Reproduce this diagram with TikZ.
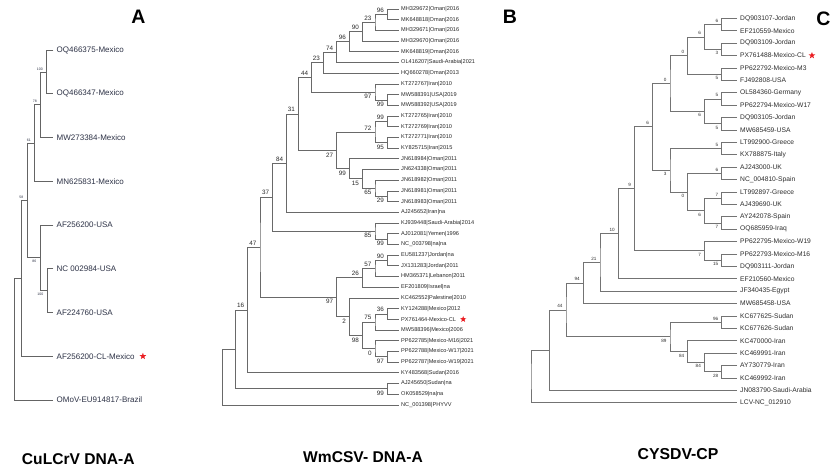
\documentclass[tikz,border=0pt]{standalone}
\usepackage{fontspec}
\setmainfont{Liberation Sans}
\usetikzlibrary{shapes.geometric}
\definecolor{brA}{RGB}{100,100,100}
\definecolor{txA}{RGB}{45,50,70}
\definecolor{brB}{RGB}{105,105,105}
\definecolor{txB}{RGB}{40,40,40}
\definecolor{brC}{RGB}{115,115,115}
\definecolor{txC}{RGB}{45,45,45}
\definecolor{starred}{RGB}{235,30,35}
\newcommand\clade[4]{\draw[#1] (#3) -| (#2) |- (#4);}
\tikzset{
  brAs/.style={draw=brA,line width=0.8pt},
  brBs/.style={draw=brB,line width=0.75pt},
  brCs/.style={draw=brC,line width=0.7pt},
  lfA/.style={anchor=west,inner xsep=3.2pt,inner ysep=0pt,font=\fontsize{8}{9}\selectfont,text=txA},
  lfB/.style={anchor=west,inner xsep=2pt,inner ysep=0pt,font=\fontsize{5.6}{6}\selectfont,text=txB},
  lfC/.style={anchor=west,inner xsep=3pt,inner ysep=0pt,font=\fontsize{6.7}{7}\selectfont,text=txC},
  upA/.style={anchor=south east,inner sep=0.3pt,xshift=-3.5pt,yshift=1.2pt,font=\fontsize{3.5}{4}\selectfont,text=txA},
  dnA/.style={anchor=north east,inner sep=0.3pt,xshift=-3.5pt,yshift=-1.5pt,font=\fontsize{3.5}{4}\selectfont,text=txA},
  upB/.style={anchor=south east,inner sep=0.3pt,xshift=-3pt,yshift=1.5pt,font=\fontsize{6.3}{7}\selectfont,text=txB},
  dnB/.style={anchor=north east,inner sep=0.3pt,xshift=-3pt,yshift=-1.8pt,font=\fontsize{6.3}{7}\selectfont,text=txB},
  upC/.style={anchor=south east,inner sep=0.3pt,xshift=-3pt,yshift=1.5pt,font=\fontsize{4.6}{5}\selectfont,text=txC},
  dnC/.style={anchor=north east,inner sep=0.3pt,xshift=-3pt,yshift=-1.8pt,font=\fontsize{4.6}{5}\selectfont,text=txC},
  rstar/.style={star,star points=5,star point ratio=2.4,fill=starred,draw=none,inner sep=0pt,minimum size=7pt},
  bigl/.style={font=\fontsize{19.5}{20}\bfseries\selectfont,inner sep=0pt},
  ttl/.style={font=\fontsize{15.6}{17}\bfseries\selectfont,inner sep=0pt}
}
\begin{document}
\begin{tikzpicture}[x=1pt,y=-1pt]
\useasboundingbox (0,0) rectangle (835,475);
\fill[white] (0,0) rectangle (835,475);

% ---------- titles ----------
\node[bigl] (tA) at (138.3,16.7) {A};
\node[bigl] (tB) at (510,16.7) {B};
\node[bigl] (tC) at (823.3,18.3) {C};
\node[ttl] (sA) at (78.3,459) {CuLCrV DNA-A};
\node[ttl] (sB) at (363,456.7) {WmCSV- DNA-A};
\node[ttl,font=\fontsize{15.8}{17}\bfseries\selectfont] (sC) at (678,454.5) {CYSDV-CP};

% ---------- tree A ----------
\coordinate (aroot) at (14.7,339);
\coordinate (aN) at (21.3,278.3);
\coordinate (a58) at (27.3,200.4);
\coordinate (a61) at (34.7,143);
\coordinate (a78) at (40.7,104.7);
\coordinate (a100) at (46.7,71.9);
\coordinate (a86) at (40.3,257.8);
\coordinate (a100b) at (47.3,290.6);
\node[lfA] (A1) at (53.3,50) {OQ466375-Mexico};
\node[lfA] (A2) at (53.3,93.75) {OQ466347-Mexico};
\node[lfA] (A3) at (53.3,137.5) {MW273384-Mexico};
\node[lfA] (A4) at (53.3,181.25) {MN625831-Mexico};
\node[lfA] (A5) at (53.3,225) {AF256200-USA};
\node[lfA] (A6) at (53.3,268.75) {NC 002984-USA};
\node[lfA] (A7) at (53.3,312.5) {AF224760-USA};
\node[lfA] (A8) at (53.3,356.25) {AF256200-CL-Mexico};
\node[lfA] (A9) at (53.3,400) {OMoV-EU914817-Brazil};
\node[rstar] (starA) at ([xshift=5pt]A8.east) {};
\clade{brAs}{aroot}{aN}{A9.west}
\clade{brAs}{aN}{a58}{A8.west}
\clade{brAs}{a58}{a61}{a86}
\clade{brAs}{a61}{a78}{A4.west}
\clade{brAs}{a78}{a100}{A3.west}
\clade{brAs}{a100}{A1.west}{A2.west}
\clade{brAs}{a86}{A5.west}{a100b}
\clade{brAs}{a100b}{A6.west}{A7.west}
\node[upA] (la100) at (a100) {100};
\node[upA] (la78) at (a78) {78};
\node[upA] (la61) at (a61) {61};
\node[upA] (la58) at (a58) {58};
\node[dnA] (la86) at (a86) {86};
\node[dnA] (la100b) at (a100b) {100};

% ---------- tree B ----------
\coordinate (b96b) at (387.3,14.35);
\coordinate (b23b) at (375,22.4);
\coordinate (b90) at (362.3,31.75);
\coordinate (b96a) at (349.3,41.8);
\coordinate (b74) at (336.7,52.15);
\coordinate (b23a) at (323.3,62.7);
\coordinate (b99a) at (387.3,99.95);
\coordinate (b97b) at (375,91.9);
\coordinate (b44) at (311.7,77.3);
\coordinate (b99e) at (387.3,121.35);
\coordinate (b95) at (387.3,142.75);
\coordinate (b72) at (375,132.05);
\coordinate (b29) at (387.3,196.25);
\coordinate (b65) at (375,188.2);
\coordinate (b15) at (362.3,178.85);
\coordinate (b99d) at (349.3,168.8);
\coordinate (b27) at (336.7,150.4);
\coordinate (b31) at (298.3,113.9);
\coordinate (b84) at (286.7,163.1);
\coordinate (b99f) at (387.3,239.05);
\coordinate (b85) at (375,231.0);
\coordinate (b37) at (272.7,197.05);
\coordinate (b90b) at (387.3,260.45);
\coordinate (b57) at (375,268.5);
\coordinate (b26) at (362.3,277.85);
\coordinate (b36) at (387.3,313.95);
\coordinate (b75) at (375,322);
\coordinate (b97c) at (387.3,356.75);
\coordinate (b0) at (375,348.7);
\coordinate (b98) at (362.3,335.35);
\coordinate (b2) at (349.3,316.6);
\coordinate (b97a) at (336.7,297.2);
\coordinate (b47) at (260,247.1);
\coordinate (b16) at (247.7,310);
\coordinate (b99c) at (387.3,388.85);
\coordinate (b0n) at (235.7,349.4);
\coordinate (broot) at (222.3,377.2);
\node[lfB] (B1) at (399,9.0) {MH329672|Oman|2016};
\node[lfB] (B2) at (399,19.7) {MK648818|Oman|2016};
\node[lfB] (B3) at (399,30.4) {MH329671|Oman|2016};
\node[lfB] (B4) at (399,41.1) {MH329670|Oman|2016};
\node[lfB] (B5) at (399,51.8) {MK648819|Oman|2016};
\node[lfB] (B6) at (399,62.5) {OL416207|Saudi-Arabia|2021};
\node[lfB] (B7) at (399,73.2) {HQ660278|Oman|2013};
\node[lfB] (B8) at (399,83.9) {KT272767|Iran|2010};
\node[lfB] (B9) at (399,94.6) {MW588391|USA|2019};
\node[lfB] (B10) at (399,105.3) {MW588392|USA|2019};
\node[lfB] (B11) at (399,116.0) {KT272765|Iran|2010};
\node[lfB] (B12) at (399,126.7) {KT272769|Iran|2010};
\node[lfB] (B13) at (399,137.4) {KT272771|Iran|2010};
\node[lfB] (B14) at (399,148.1) {KY825715|Iran|2015};
\node[lfB] (B15) at (399,158.8) {JN618984|Oman|2011};
\node[lfB] (B16) at (399,169.5) {JN624338|Oman|2011};
\node[lfB] (B17) at (399,180.2) {JN618982|Oman|2011};
\node[lfB] (B18) at (399,190.9) {JN618981|Oman|2011};
\node[lfB] (B19) at (399,201.6) {JN618983|Oman|2011};
\node[lfB] (B20) at (399,212.3) {AJ245652|Iran|na};
\node[lfB] (B21) at (399,223.0) {KJ939448|Saudi-Arabia|2014};
\node[lfB] (B22) at (399,233.7) {AJ012081|Yemen|1996};
\node[lfB] (B23) at (399,244.4) {NC\_003798|na|na};
\node[lfB] (B24) at (399,255.1) {EU581237|Jordan|na};
\node[lfB] (B25) at (399,265.8) {JX131283|Jordan|2011};
\node[lfB] (B26) at (399,276.5) {HM365371|Lebanon|2011};
\node[lfB] (B27) at (399,287.2) {EF201809|Israel|na};
\node[lfB] (B28) at (399,297.9) {KC462552|Palestine|2010};
\node[lfB] (B29) at (399,308.6) {KY124288|Mexico|2012};
\node[lfB] (B30) at (399,319.3) {PX761464-Mexico-CL};
\node[lfB] (B31) at (399,330.0) {MW588396|Mexico|2006};
\node[lfB] (B32) at (399,340.7) {PP622785|Mexico-M16|2021};
\node[lfB] (B33) at (399,351.4) {PP622788|Mexico-W17|2021};
\node[lfB] (B34) at (399,362.1) {PP622787|Mexico-W19|2021};
\node[lfB] (B35) at (399,372.8) {KY483568|Sudan|2016};
\node[lfB] (B36) at (399,383.5) {AJ245650|Sudan|na};
\node[lfB] (B37) at (399,394.2) {OK058529|na|na};
\node[lfB] (B38) at (399,404.9) {NC\_001398|PHYVV};
\node[rstar,minimum size=6.5pt] (starB) at ([xshift=5pt]B30.east) {};
\clade{brBs}{broot}{b0n}{B38.west}
\clade{brBs}{b0n}{b16}{b99c}
\clade{brBs}{b16}{b47}{B35.west}
\clade{brBs}{b47}{b37}{b97a}
\clade{brBs}{b37}{b84}{b85}
\clade{brBs}{b84}{b31}{B20.west}
\clade{brBs}{b31}{b44}{b27}
\clade{brBs}{b44}{b23a}{b97b}
\clade{brBs}{b23a}{b74}{B7.west}
\clade{brBs}{b74}{b96a}{B6.west}
\clade{brBs}{b96a}{b90}{B5.west}
\clade{brBs}{b90}{b23b}{B4.west}
\clade{brBs}{b23b}{b96b}{B3.west}
\clade{brBs}{b96b}{B1.west}{B2.west}
\clade{brBs}{b97b}{B8.west}{b99a}
\clade{brBs}{b99a}{B9.west}{B10.west}
\clade{brBs}{b27}{b72}{b99d}
\clade{brBs}{b72}{b99e}{b95}
\clade{brBs}{b99e}{B11.west}{B12.west}
\clade{brBs}{b95}{B13.west}{B14.west}
\clade{brBs}{b99d}{B15.west}{b15}
\clade{brBs}{b15}{B16.west}{b65}
\clade{brBs}{b65}{B17.west}{b29}
\clade{brBs}{b29}{B18.west}{B19.west}
\clade{brBs}{b85}{B21.west}{b99f}
\clade{brBs}{b99f}{B22.west}{B23.west}
\clade{brBs}{b97a}{b26}{b2}
\clade{brBs}{b26}{b57}{B27.west}
\clade{brBs}{b57}{b90b}{B26.west}
\clade{brBs}{b90b}{B24.west}{B25.west}
\clade{brBs}{b2}{B28.west}{b98}
\clade{brBs}{b98}{b75}{b0}
\clade{brBs}{b75}{b36}{B31.west}
\clade{brBs}{b36}{B29.west}{B30.west}
\clade{brBs}{b0}{B32.west}{b97c}
\clade{brBs}{b97c}{B33.west}{B34.west}
\clade{brBs}{b99c}{B36.west}{B37.west}
\node[upB] (lb96b) at (b96b) {96};
\node[upB] (lb23b) at (b23b) {23};
\node[upB] (lb90) at (b90) {90};
\node[upB] (lb96a) at (b96a) {96};
\node[upB] (lb74) at (b74) {74};
\node[upB] (lb23a) at (b23a) {23};
\node[upB] (lb44) at (b44) {44};
\node[dnB] (lb97b) at (b97b) {97};
\node[dnB] (lb99a) at (b99a) {99};
\node[upB] (lb31) at (b31) {31};
\node[dnB] (lb27) at (b27) {27};
\node[upB] (lb72) at (b72) {72};
\node[upB] (lb99e) at (b99e) {99};
\node[dnB] (lb95) at (b95) {95};
\node[dnB] (lb99d) at (b99d) {99};
\node[dnB] (lb15) at (b15) {15};
\node[dnB] (lb65) at (b65) {65};
\node[dnB] (lb29) at (b29) {29};
\node[upB] (lb84) at (b84) {84};
\node[upB] (lb37) at (b37) {37};
\node[dnB] (lb85) at (b85) {85};
\node[dnB] (lb99f) at (b99f) {99};
\node[upB] (lb47) at (b47) {47};
\node[dnB] (lb97a) at (b97a) {97};
\node[upB] (lb26) at (b26) {26};
\node[upB] (lb57) at (b57) {57};
\node[upB] (lb90b) at (b90b) {90};
\node[dnB] (lb2) at (b2) {2};
\node[dnB] (lb98) at (b98) {98};
\node[upB] (lb75) at (b75) {75};
\node[upB] (lb36) at (b36) {36};
\node[dnB] (lb0) at (b0) {0};
\node[dnB] (lb97c) at (b97c) {97};
\node[upB] (lb16) at (b16) {16};
\node[dnB] (lb99c) at (b99c) {99};

% ---------- tree C ----------
\coordinate (ca) at (721.7,24.5);
\coordinate (cb) at (721.7,49.3);
\coordinate (cc) at (704.3,36.9);
\coordinate (cd) at (721.7,74.1);
\coordinate (ce) at (687.7,55.5);
\coordinate (cf) at (721.7,98.9);
\coordinate (cg) at (721.7,123.7);
\coordinate (ch) at (704.3,111.3);
\coordinate (ci) at (670,83.4);
\coordinate (cj) at (721.7,148.5);
\coordinate (ck) at (721.7,173.3);
\coordinate (cl) at (721.7,198.1);
\coordinate (cm) at (721.7,222.9);
\coordinate (cn) at (704.3,210.5);
\coordinate (co) at (687.7,191.9);
\coordinate (cq) at (670,170.2);
\coordinate (cr) at (652.3,126.8);
\coordinate (cu) at (721.7,260.1);
\coordinate (ct) at (704.3,250.8);
\coordinate (cs) at (634.3,188.8);
\coordinate (cv) at (618.3,233.75);
\coordinate (cw) at (600,262.4);
\coordinate (cx) at (583.3,282.95);
\coordinate (c96) at (721.7,322.1);
\coordinate (c28) at (721.7,371.7);
\coordinate (c84b) at (704.3,362.4);
\coordinate (c84a) at (687.7,351.55);
\coordinate (cz) at (670,336.8);
\coordinate (cy) at (566,309.9);
\coordinate (cA) at (549.3,350.1);
\coordinate (croot) at (531,376.4);
\node[lfC] (C1) at (737,18.3) {DQ903107-Jordan};
\node[lfC] (C2) at (737,30.7) {EF210559-Mexico};
\node[lfC] (C3) at (737,43.1) {DQ903109-Jordan};
\node[lfC] (C4) at (737,55.5) {PX761488-Mexico-CL};
\node[lfC] (C5) at (737,67.9) {PP622792-Mexico-M3};
\node[lfC] (C6) at (737,80.3) {FJ492808-USA};
\node[lfC] (C7) at (737,92.7) {OL584360-Germany};
\node[lfC] (C8) at (737,105.1) {PP622794-Mexico-W17};
\node[lfC] (C9) at (737,117.5) {DQ903105-Jordan};
\node[lfC] (C10) at (737,129.9) {MW685459-USA};
\node[lfC] (C11) at (737,142.3) {LT992900-Greece};
\node[lfC] (C12) at (737,154.7) {KX788875-Italy};
\node[lfC] (C13) at (737,167.1) {AJ243000-UK};
\node[lfC] (C14) at (737,179.5) {NC\_004810-Spain};
\node[lfC] (C15) at (737,191.9) {LT992897-Greece};
\node[lfC] (C16) at (737,204.3) {AJ439690-UK};
\node[lfC] (C17) at (737,216.7) {AY242078-Spain};
\node[lfC] (C18) at (737,229.1) {OQ685959-Iraq};
\node[lfC] (C19) at (737,241.5) {PP622795-Mexico-W19};
\node[lfC] (C20) at (737,253.9) {PP622793-Mexico-M16};
\node[lfC] (C21) at (737,266.3) {DQ903111-Jordan};
\node[lfC] (C22) at (737,278.7) {EF210560-Mexico};
\node[lfC] (C23) at (737,291.1) {JF340435-Egypt};
\node[lfC] (C24) at (737,303.5) {MW685458-USA};
\node[lfC] (C25) at (737,315.9) {KC677625-Sudan};
\node[lfC] (C26) at (737,328.3) {KC677626-Sudan};
\node[lfC] (C27) at (737,340.7) {KC470000-Iran};
\node[lfC] (C28) at (737,353.1) {KC469991-Iran};
\node[lfC] (C29) at (737,365.5) {AY730779-Iran};
\node[lfC] (C30) at (737,377.9) {KC469992-Iran};
\node[lfC] (C31) at (737,390.3) {JN083790-Saudi-Arabia};
\node[lfC] (C32) at (737,402.7) {LCV-NC\_012910};
\node[rstar] (starC) at ([xshift=3pt]C4.east) {};
\clade{brCs}{croot}{cA}{C32.west}
\clade{brCs}{cA}{cy}{C31.west}
\clade{brCs}{cy}{cx}{cz}
\clade{brCs}{cx}{cw}{C24.west}
\clade{brCs}{cw}{cv}{C23.west}
\clade{brCs}{cv}{cs}{C22.west}
\clade{brCs}{cs}{cr}{ct}
\clade{brCs}{cr}{ci}{cq}
\clade{brCs}{ci}{ce}{ch}
\clade{brCs}{ce}{cc}{cd}
\clade{brCs}{cc}{ca}{cb}
\clade{brCs}{ca}{C1.west}{C2.west}
\clade{brCs}{cb}{C3.west}{C4.west}
\clade{brCs}{cd}{C5.west}{C6.west}
\clade{brCs}{ch}{cf}{cg}
\clade{brCs}{cf}{C7.west}{C8.west}
\clade{brCs}{cg}{C9.west}{C10.west}
\clade{brCs}{cq}{cj}{co}
\clade{brCs}{cj}{C11.west}{C12.west}
\clade{brCs}{co}{ck}{cn}
\clade{brCs}{ck}{C13.west}{C14.west}
\clade{brCs}{cn}{cl}{cm}
\clade{brCs}{cl}{C15.west}{C16.west}
\clade{brCs}{cm}{C17.west}{C18.west}
\clade{brCs}{ct}{C19.west}{cu}
\clade{brCs}{cu}{C20.west}{C21.west}
\clade{brCs}{cz}{c96}{c84a}
\clade{brCs}{c96}{C25.west}{C26.west}
\clade{brCs}{c84a}{C27.west}{c84b}
\clade{brCs}{c84b}{C28.west}{c28}
\clade{brCs}{c28}{C29.west}{C30.west}
\node[upC] (lca) at (ca) {6};
\node[dnC] (lcb) at (cb) {3};
\node[upC] (lcc) at (cc) {6};
\node[dnC] (lcd) at (cd) {5};
\node[upC] (lce) at (ce) {0};
\node[upC] (lcf) at (cf) {5};
\node[dnC] (lcg) at (cg) {5};
\node[dnC] (lch) at (ch) {6};
\node[upC] (lci) at (ci) {0};
\node[upC] (lcj) at (cj) {5};
\node[upC] (lck) at (ck) {6};
\node[upC] (lcl) at (cl) {7};
\node[dnC] (lcm) at (cm) {7};
\node[dnC] (lcn) at (cn) {6};
\node[dnC] (lco) at (co) {0};
\node[dnC] (lcq) at (cq) {3};
\node[upC] (lcr) at (cr) {6};
\node[upC] (lcs) at (cs) {9};
\node[dnC] (lct) at (ct) {7};
\node[dnC] (lcu) at (cu) {15};
\node[upC] (lcv) at (cv) {10};
\node[upC] (lcw) at (cw) {21};
\node[upC] (lcx) at (cx) {94};
\node[upC] (lcy) at (cy) {44};
\node[upC] (lc96) at (c96) {96};
\node[dnC] (lcz) at (cz) {89};
\node[dnC] (lc84a) at (c84a) {84};
\node[dnC] (lc84b) at (c84b) {84};
\node[dnC] (lc28) at (c28) {28};
\end{tikzpicture}
\end{document}
